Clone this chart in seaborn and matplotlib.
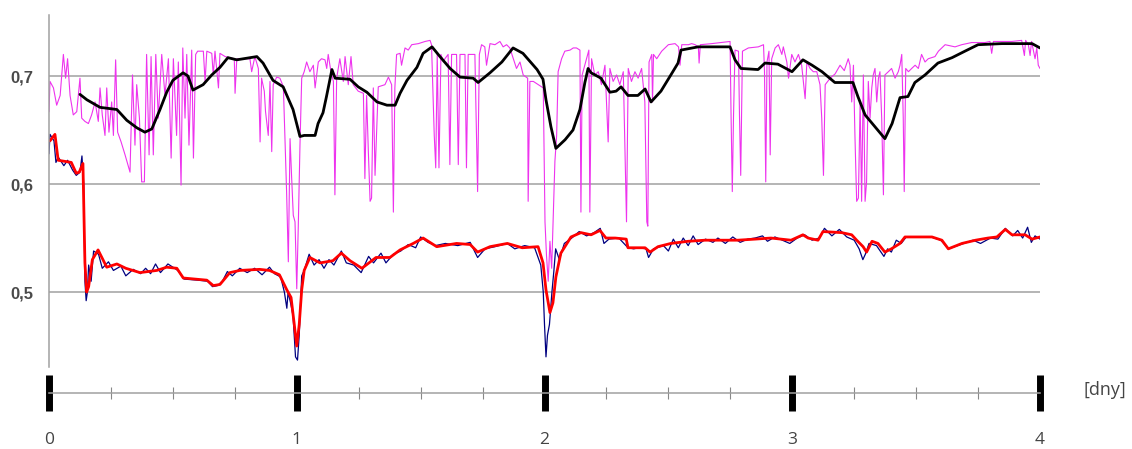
import matplotlib
matplotlib.use("Agg")
import matplotlib.pyplot as plt
import seaborn as sns
import pandas as pd
from matplotlib.ticker import MultipleLocator, FixedLocator

# ---------------- data (x in days, y values) ----------------
mag_x = [0.000, 0.004, 0.018, 0.031, 0.045, 0.058, 0.067, 0.075, 0.085, 0.098, 0.112, 0.125, 0.132, 0.145, 0.159,
         0.172, 0.186, 0.199, 0.206, 0.215, 0.226, 0.233, 0.242, 0.253, 0.260, 0.269, 0.277, 0.291, 0.307, 0.327,
         0.337, 0.347, 0.354, 0.365, 0.374, 0.385, 0.394, 0.404, 0.412, 0.421, 0.431, 0.441, 0.455, 0.468, 0.482,
         0.493, 0.502, 0.515, 0.522, 0.533, 0.540, 0.549, 0.556, 0.565, 0.576, 0.583, 0.592, 0.600, 0.623, 0.630,
         0.637, 0.657, 0.663, 0.670, 0.684, 0.690, 0.711, 0.748, 0.751, 0.758, 0.791,
         0.811, 0.818, 0.831, 0.845, 0.852, 0.858, 0.869, 0.874, 0.885, 0.892, 0.899, 0.905, 0.919, 0.932, 0.946,
         0.952, 0.959, 0.966, 0.973, 0.979, 0.986, 0.993, 1.000, 1.006, 1.013, 1.020, 1.030, 1.040, 1.053, 1.067,
         1.074, 1.087, 1.100, 1.114, 1.121, 1.127, 1.138, 1.148, 1.154, 1.161, 1.174, 1.188, 1.195, 1.208, 1.219,
         1.228, 1.248, 1.269, 1.275, 1.282, 1.289, 1.296, 1.302, 1.309, 1.316, 1.329, 1.356, 1.370, 1.383, 1.390,
         1.396, 1.403, 1.417, 1.423, 1.437, 1.450, 1.464, 1.491, 1.518, 1.538, 1.544, 1.555, 1.561, 1.567, 1.574,
         1.582, 1.592,
         1.598, 1.611, 1.618, 1.625, 1.645, 1.652, 1.659, 1.679, 1.685, 1.692, 1.719, 1.730, 1.737, 1.746, 1.759,
         1.766, 1.780, 1.800, 1.820, 1.833, 1.847, 1.860, 1.874, 1.887, 1.901, 1.914, 1.932, 1.934, 1.941, 1.955,
         1.975, 1.995, 2.002, 2.008, 2.015, 2.022, 2.029, 2.042, 2.049, 2.055, 2.069, 2.082, 2.103, 2.116, 2.129,
         2.143, 2.147, 2.152, 2.166, 2.179, 2.183, 2.190, 2.203, 2.217, 2.230, 2.244, 2.257, 2.264, 2.277, 2.291,
         2.304, 2.318, 2.331, 2.338, 2.351, 2.365, 2.378, 2.392, 2.405,
         2.413, 2.417, 2.422, 2.433, 2.436, 2.440, 2.453, 2.473, 2.500, 2.527, 2.541, 2.547, 2.554, 2.581, 2.594,
         2.608, 2.621, 2.624, 2.629, 2.675, 2.749, 2.753, 2.758, 2.763, 2.769, 2.783, 2.787, 2.792, 2.799, 2.823,
         2.863, 2.884, 2.888, 2.893, 2.898, 2.906, 2.911, 2.917, 2.931, 2.944, 2.958, 2.964, 2.978, 2.985, 2.998,
         3.011, 3.025, 3.038, 3.052, 3.059, 3.072, 3.085, 3.099, 3.112, 3.119, 3.126, 3.133, 3.153, 3.173, 3.193,
         3.210,
         3.226, 3.233, 3.240, 3.247, 3.253, 3.260, 3.267, 3.274, 3.280, 3.287, 3.294, 3.300, 3.307, 3.314, 3.321,
         3.327, 3.334, 3.341, 3.348, 3.354, 3.361, 3.368, 3.374, 3.388, 3.401, 3.415, 3.428, 3.435, 3.442, 3.448,
         3.452, 3.458, 3.469, 3.482, 3.496, 3.509, 3.522, 3.536, 3.549, 3.576, 3.590, 3.617, 3.657, 3.684, 3.724,
         3.778, 3.798, 3.805, 3.812, 3.886, 3.926, 3.937, 3.942, 3.953, 3.960, 3.966, 3.980, 3.987, 3.993, 4.000]
mag_y = [0.667, 0.695, 0.689, 0.673, 0.682, 0.720, 0.698, 0.716, 0.682, 0.664, 0.667, 0.698, 0.661, 0.658, 0.656,
         0.664, 0.676, 0.658, 0.689, 0.664, 0.645, 0.689, 0.648, 0.676, 0.645, 0.715, 0.648, 0.639, 0.627, 0.611,
         0.701, 0.636, 0.692, 0.661, 0.602, 0.602, 0.720, 0.627, 0.718, 0.627, 0.720, 0.661, 0.720, 0.682, 0.716,
         0.624, 0.716, 0.645, 0.713, 0.599, 0.726, 0.661, 0.720, 0.636, 0.724, 0.624, 0.720, 0.723, 0.723, 0.695,
         0.723, 0.721, 0.701, 0.723, 0.689, 0.721, 0.718, 0.716, 0.684, 0.716, 0.716,
         0.716, 0.704, 0.718, 0.707, 0.639, 0.698, 0.686, 0.667, 0.645, 0.695, 0.630, 0.692, 0.699, 0.698, 0.690,
         0.645, 0.593, 0.528, 0.642, 0.608, 0.571, 0.565, 0.503, 0.559, 0.636, 0.698, 0.704, 0.713, 0.704, 0.710,
         0.689, 0.713, 0.716, 0.715, 0.707, 0.720, 0.704, 0.695, 0.590, 0.698, 0.716, 0.695, 0.718, 0.692, 0.718,
         0.692, 0.686, 0.684, 0.605, 0.682, 0.630, 0.584, 0.587, 0.689, 0.608, 0.690, 0.692, 0.699, 0.692, 0.574,
         0.689, 0.720, 0.721, 0.710, 0.726, 0.724, 0.729, 0.730, 0.732, 0.733, 0.729, 0.645, 0.615, 0.720, 0.615,
         0.720, 0.713,
         0.716, 0.720, 0.618, 0.720, 0.720, 0.618, 0.720, 0.720, 0.615, 0.720, 0.720, 0.593, 0.720, 0.729, 0.727,
         0.710, 0.730, 0.729, 0.732, 0.727, 0.729, 0.726, 0.716, 0.707, 0.713, 0.701, 0.698, 0.584, 0.695, 0.695,
         0.692, 0.689, 0.565, 0.534, 0.510, 0.547, 0.522, 0.621, 0.645, 0.704, 0.716, 0.723, 0.724, 0.726, 0.726,
         0.724, 0.574, 0.701, 0.713, 0.724, 0.574, 0.716, 0.701, 0.704, 0.692, 0.710, 0.639, 0.707, 0.695, 0.701,
         0.692, 0.704, 0.565, 0.707, 0.695, 0.704, 0.698, 0.707, 0.676,
         0.565, 0.561, 0.713, 0.720, 0.676, 0.720, 0.716, 0.723, 0.729, 0.730, 0.727, 0.710, 0.729, 0.729, 0.730,
         0.729, 0.727, 0.712, 0.729, 0.730, 0.732, 0.664, 0.593, 0.664, 0.724, 0.723, 0.664, 0.608, 0.723, 0.726,
         0.727, 0.729, 0.704, 0.602, 0.713, 0.723, 0.627, 0.716, 0.726, 0.729, 0.720, 0.727, 0.713, 0.698, 0.720,
         0.713, 0.720, 0.710, 0.679, 0.713, 0.707, 0.704, 0.704, 0.692, 0.661, 0.608, 0.692, 0.698, 0.702, 0.710,
         0.705,
         0.716, 0.710, 0.676, 0.710, 0.645, 0.584, 0.587, 0.676, 0.584, 0.701, 0.584, 0.602, 0.695, 0.661, 0.689,
         0.701, 0.707, 0.676, 0.698, 0.704, 0.661, 0.590, 0.701, 0.704, 0.707, 0.698, 0.704, 0.710, 0.720, 0.661,
         0.593, 0.707, 0.704, 0.707, 0.710, 0.707, 0.720, 0.713, 0.716, 0.718, 0.723, 0.729, 0.727, 0.729, 0.731,
         0.731, 0.732, 0.721, 0.732, 0.732, 0.733, 0.719, 0.733, 0.729, 0.719, 0.732, 0.716, 0.726, 0.710, 0.707]

black_x = [0.125, 0.153, 0.206, 0.274, 0.314, 0.355, 0.387, 0.415, 0.448, 0.475, 0.500, 0.541, 0.561, 0.581, 0.622,
           0.657, 0.690, 0.722, 0.758, 0.839, 0.864, 0.904, 0.945, 0.985, 1.013, 1.030, 1.074, 1.086, 1.106, 1.120,
           1.142, 1.155, 1.215, 1.248, 1.283, 1.324, 1.364, 1.397, 1.417, 1.445, 1.485, 1.510, 1.546, 1.578, 1.619,
           1.659, 1.712, 1.732, 1.780, 1.828, 1.873, 1.913, 1.970, 1.994, 2.006, 2.026, 2.046, 2.083, 2.115, 2.143,
           2.163, 2.176, 2.188, 2.228, 2.264, 2.289, 2.309, 2.337, 2.377, 2.406, 2.430, 2.470, 2.510, 2.539, 2.551,
           2.620, 2.749, 2.769, 2.793, 2.862, 2.890, 2.942, 2.999, 3.043, 3.080, 3.120, 3.172, 3.245, 3.265, 3.294,
           3.334, 3.374, 3.403, 3.435, 3.467, 3.495, 3.536, 3.588, 3.645, 3.697, 3.750, 3.846, 3.968, 4.000]
black_y = [0.683, 0.678, 0.671, 0.669, 0.659, 0.652, 0.648, 0.651, 0.669, 0.685, 0.696, 0.703, 0.700, 0.687, 0.692,
           0.701, 0.708, 0.717, 0.715, 0.718, 0.712, 0.696, 0.690, 0.669, 0.644, 0.645, 0.645, 0.656, 0.666, 0.681,
           0.706, 0.698, 0.697, 0.690, 0.685, 0.676, 0.673, 0.673, 0.684, 0.696, 0.708, 0.721, 0.727, 0.718, 0.707,
           0.699, 0.698, 0.694, 0.703, 0.713, 0.726, 0.721, 0.706, 0.697, 0.678, 0.653, 0.633, 0.641, 0.650, 0.669,
           0.694, 0.707, 0.703, 0.698, 0.685, 0.686, 0.690, 0.682, 0.682, 0.688, 0.676, 0.686, 0.701, 0.712, 0.724,
           0.727, 0.727, 0.715, 0.707, 0.706, 0.712, 0.711, 0.704, 0.715, 0.710, 0.704, 0.694, 0.694, 0.681, 0.664,
           0.653, 0.642, 0.656, 0.680, 0.681, 0.694, 0.701, 0.712, 0.717, 0.723, 0.729, 0.730, 0.730, 0.726]

red_x = [0.004, 0.024, 0.037, 0.090, 0.110, 0.122, 0.137, 0.145, 0.152, 0.160, 0.175, 0.198, 0.233, 0.274, 0.310,
         0.367, 0.435, 0.475, 0.516, 0.542, 0.637, 0.663, 0.690, 0.730, 0.770, 0.850, 0.890, 0.930, 0.960, 0.977,
         0.990, 1.000, 1.010, 1.020, 1.030, 1.053, 1.094, 1.146, 1.180, 1.215, 1.263, 1.320, 1.376, 1.417, 1.470,
         1.510, 1.565, 1.645, 1.700, 1.730, 1.780, 1.850, 1.910, 1.974, 1.994, 2.006, 2.022, 2.034, 2.046, 2.066,
         2.107, 2.147, 2.188, 2.224, 2.248, 2.285, 2.330, 2.337, 2.406, 2.426, 2.458, 2.510, 2.580, 2.648, 2.712,
         2.780, 2.850, 2.914, 2.995, 3.043, 3.064, 3.104, 3.124, 3.200, 3.240, 3.260, 3.286, 3.300, 3.322, 3.346,
         3.374, 3.400, 3.435, 3.455, 3.564, 3.604, 3.630, 3.685, 3.740, 3.790, 3.826, 3.860, 3.887, 3.940, 3.968,
         4.000]
red_y = [0.640, 0.646, 0.622, 0.620, 0.610, 0.611, 0.619, 0.527, 0.500, 0.505, 0.530, 0.539, 0.523, 0.526, 0.522,
         0.518, 0.520, 0.523, 0.522, 0.513, 0.511, 0.506, 0.507, 0.518, 0.520, 0.521, 0.520, 0.516, 0.502, 0.495,
         0.470, 0.450, 0.470, 0.502, 0.520, 0.532, 0.527, 0.529, 0.536, 0.529, 0.522, 0.532, 0.532, 0.539, 0.545,
         0.550, 0.542, 0.545, 0.544, 0.537, 0.542, 0.545, 0.541, 0.542, 0.527, 0.502, 0.481, 0.490, 0.514, 0.536,
         0.551, 0.555, 0.553, 0.557, 0.550, 0.550, 0.549, 0.541, 0.541, 0.537, 0.542, 0.545, 0.547, 0.548, 0.548,
         0.548, 0.549, 0.550, 0.548, 0.553, 0.550, 0.548, 0.556, 0.555, 0.553, 0.548, 0.542, 0.537, 0.547, 0.545,
         0.537, 0.540, 0.545, 0.551, 0.551, 0.548, 0.540, 0.545, 0.548, 0.550, 0.551, 0.558, 0.553, 0.553, 0.549,
         0.551]

blue_x = [0.000, 0.004, 0.020, 0.028, 0.037, 0.060, 0.075, 0.095, 0.110, 0.125, 0.133, 0.140, 0.145, 0.150, 0.155,
          0.160, 0.170, 0.180, 0.200, 0.215, 0.240, 0.260, 0.290, 0.310, 0.340, 0.370, 0.390, 0.410, 0.430, 0.450,
          0.480, 0.520, 0.545, 0.600, 0.640, 0.660, 0.680, 0.700, 0.720, 0.740, 0.770, 0.800, 0.830, 0.860, 0.890,
          0.910, 0.935, 0.950, 0.960, 0.965, 0.975, 0.985, 0.995, 1.003, 1.010, 1.020, 1.030, 1.050, 1.070, 1.090,
          1.110, 1.130, 1.150, 1.180, 1.200, 1.230, 1.260, 1.290, 1.310, 1.340, 1.360, 1.390, 1.420, 1.450, 1.480,
          1.500, 1.530, 1.560, 1.600, 1.650, 1.700, 1.730, 1.760, 1.800, 1.850, 1.880, 1.920, 1.960, 1.985, 1.995,
          2.000, 2.006, 2.012, 2.020, 2.030, 2.038, 2.045, 2.060, 2.080, 2.110, 2.140, 2.170, 2.200, 2.225, 2.240,
          2.260, 2.300, 2.337, 2.360, 2.380, 2.410, 2.420, 2.440, 2.480, 2.500, 2.520, 2.540, 2.560, 2.580, 2.600,
          2.620, 2.650, 2.680, 2.700, 2.730, 2.760, 2.790, 2.820, 2.850, 2.880, 2.900, 2.930, 2.960, 2.990, 3.020,
          3.050, 3.080, 3.110, 3.130, 3.160, 3.190, 3.220, 3.250, 3.270, 3.285, 3.295, 3.310, 3.340, 3.370, 3.385,
          3.400, 3.420, 3.440, 3.460, 3.560, 3.600, 3.630, 3.680, 3.730, 3.760, 3.800, 3.830, 3.860, 3.890, 3.910,
          3.930, 3.950, 3.965, 3.980, 4.000]
blue_y = [0.628, 0.646, 0.640, 0.620, 0.625, 0.617, 0.622, 0.613, 0.608, 0.611, 0.626, 0.600, 0.510, 0.492, 0.500,
          0.525, 0.510, 0.538, 0.535, 0.522, 0.528, 0.520, 0.524, 0.515, 0.521, 0.517, 0.522, 0.517, 0.526, 0.518,
          0.526, 0.520, 0.512, 0.511, 0.510, 0.505, 0.506, 0.510, 0.519, 0.515, 0.522, 0.518, 0.522, 0.516, 0.523,
          0.517, 0.514, 0.500, 0.485, 0.500, 0.490, 0.478, 0.440, 0.437, 0.460, 0.515, 0.520, 0.535, 0.525, 0.530,
          0.522, 0.530, 0.525, 0.538, 0.527, 0.525, 0.518, 0.533, 0.527, 0.536, 0.527, 0.535, 0.538, 0.544, 0.541,
          0.551, 0.546, 0.543, 0.545, 0.543, 0.546, 0.532, 0.540, 0.542, 0.545, 0.540, 0.543, 0.541, 0.525, 0.500,
          0.470, 0.440, 0.460, 0.470, 0.500, 0.520, 0.540, 0.530, 0.545, 0.550, 0.556, 0.552, 0.555, 0.559, 0.545,
          0.549, 0.550, 0.541, 0.540, 0.541, 0.540, 0.532, 0.540, 0.543, 0.538, 0.549, 0.541, 0.550, 0.543, 0.552,
          0.544, 0.549, 0.546, 0.550, 0.545, 0.551, 0.546, 0.549, 0.550, 0.552, 0.547, 0.551, 0.548, 0.545, 0.550,
          0.553, 0.548, 0.550, 0.559, 0.552, 0.558, 0.551, 0.548, 0.540, 0.530, 0.535, 0.545, 0.543, 0.533, 0.540,
          0.537, 0.548, 0.545, 0.551, 0.551, 0.548, 0.540, 0.544, 0.548, 0.545, 0.550, 0.549, 0.559, 0.552, 0.557,
          0.550, 0.560, 0.546, 0.552, 0.549]

x_major = [0, 1, 2, 3, 4]
x_tick_labels = ["0", "1", "2", "3", "4"]
y_ticks = [0.5, 0.6, 0.7]
y_tick_labels = ["0,5", "0,6", "0,7"]
x_unit_label = "[dny]"

# ---------------- style ----------------
sns.set_style("white")
plt.rcParams["font.family"] = ["Open Sans", "DejaVu Sans"]

W, H = 1132, 449
fig = plt.figure(figsize=(W / 100, H / 100), dpi=100, facecolor="white")
ax = fig.add_axes([49 / W, 1 - 367 / H, (1040 - 49) / W, (367 - 15) / H])

series = [
    (mag_x, mag_y, "#ee33ee", 0.8),
    (black_x, black_y, "#000000", 2.0),
    (blue_x, blue_y, "#000080", 0.9),
    (red_x, red_y, "#ff0000", 2.0),
]
for xs, ys, col, lw in series:
    df = pd.DataFrame({"t": xs, "v": ys})
    sns.lineplot(data=df, x="t", y="v", ax=ax, color=col, linewidth=lw,
                 estimator=None, sort=False, legend=False)

ax.set_xlim(0, 4)
ax.set_ylim(0.4306, 0.7565)

# grid
ax.yaxis.set_major_locator(FixedLocator(y_ticks))
ax.set_yticklabels(y_tick_labels)
ax.yaxis.grid(True, color="#a0a0a0", linewidth=1.1)
ax.xaxis.grid(False)
ax.set_axisbelow(True)

# spines
for s in ["top", "right"]:
    ax.spines[s].set_visible(False)
ax.spines["left"].set_color("#a0a0a0")
ax.spines["left"].set_linewidth(1.1)
ax.spines["bottom"].set_position(("outward", 18.7))
ax.spines["bottom"].set_color("#a0a0a0")
ax.spines["bottom"].set_linewidth(1.1)

# y tick labels
ax.tick_params(axis="y", which="both", left=False, length=0, pad=11.5)
for lab in ax.get_yticklabels():
    lab.set_fontfamily(["Liberation Sans", "DejaVu Sans"])
    lab.set_fontweight("bold")
    lab.set_fontsize(12)
    lab.set_color("#4a4a4a")

# x ticks
ax.xaxis.set_major_locator(FixedLocator(x_major))
ax.xaxis.set_minor_locator(MultipleLocator(0.25))
ax.set_xticklabels(x_tick_labels)
ax.tick_params(axis="x", which="both", bottom=True, top=False)
ax.tick_params(axis="x", which="major", direction="inout", length=26.5, width=5,
               color="black", pad=14.5, labelsize=12.5, labelcolor="#444444")
ax.tick_params(axis="x", which="minor", direction="inout", length=8, width=0.8,
               color="#888888")

ax.set_ylabel("")
ax.set_xlabel(x_unit_label, fontsize=13, color="#444444", va="center", ha="center")
ax.xaxis.set_label_coords((1105 - 49) / (1040 - 49), -(390 - 367) / (367 - 15))

fig.savefig("out.png", dpi=100, facecolor="white")
